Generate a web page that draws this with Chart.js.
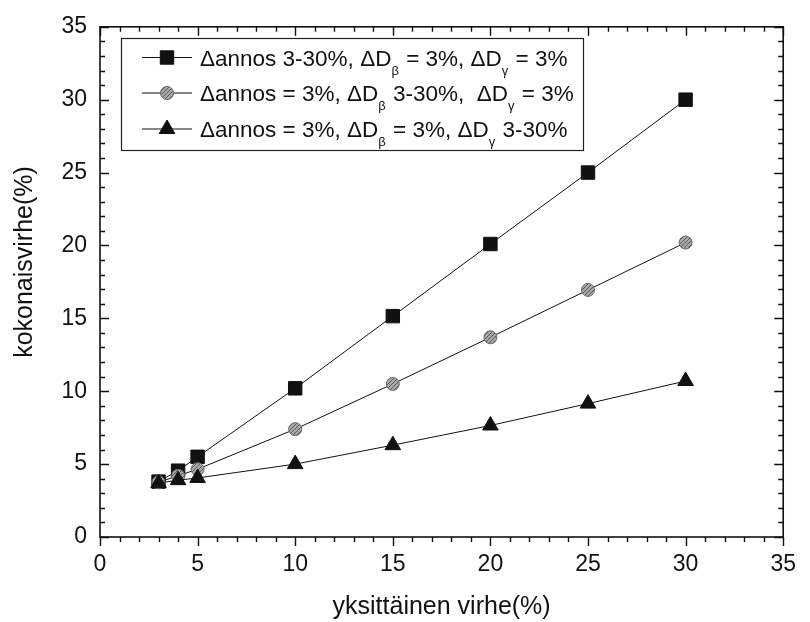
<!DOCTYPE html>
<html>
<head>
<meta charset="utf-8">
<script src="https://cdn.jsdelivr.net/npm/chart.js@4/dist/chart.umd.min.js"></script>
<style>
html,body{margin:0;padding:0;background:#fff;}
#wrap{width:810px;height:622px;position:relative;}
</style>
</head>
<body>
<div id="wrap"><canvas id="c" width="810" height="622"></canvas></div>
<script>
// ---- data ----
const xValues = [3, 4, 5, 10, 15, 20, 25, 30];
const seriesAnnos  = [3.8, 4.55, 5.5, 10.2, 15.15, 20.1, 25.0, 30.0];
const seriesDbeta  = [3.75, 4.2, 4.65, 7.4, 10.5, 13.7, 16.95, 20.2];
const seriesDgamma = [3.7, 3.9, 4.05, 5.0, 6.3, 7.65, 9.15, 10.7];
const xTickValues = [0, 5, 10, 15, 20, 25, 30, 35];
const yTickValues = [0, 5, 10, 15, 20, 25, 30, 35];
const xTitle = 'yksittäinen virhe(%)';
const yTitle = 'kokonaisvirhe(%)';
// legend label pieces: [text, isSubscript]
const legendLabels = [
  [['Δannos 3-30%, ΔD', false], ['β', true], [' = 3%, ΔD', false], ['γ', true], [' = 3%', false]],
  [['Δannos = 3%, ΔD', false], ['β', true], [' 3-30%,  ΔD', false], ['γ', true], [' = 3%', false]],
  [['Δannos = 3%, ΔD', false], ['β', true], [' = 3%, ΔD', false], ['γ', true], [' 3-30%', false]]
];

const FONT = "'Liberation Sans', Arial, sans-serif";

function toPoints(ys) { return xValues.map((x, i) => ({x: x, y: ys[i]})); }

// hatched gray pattern for circles
function makePattern() {
  const p = document.createElement('canvas');
  p.width = 4; p.height = 4;
  const g = p.getContext('2d');
  g.fillStyle = '#a8a8a8'; g.fillRect(0, 0, 4, 4);
  g.strokeStyle = '#5a5a5a'; g.lineWidth = 1;
  g.beginPath(); g.moveTo(0, 4); g.lineTo(4, 0); g.stroke();
  return g.createPattern(p, 'repeat');
}
const ctx = document.getElementById('c').getContext('2d');
const hatch = makePattern();

const styles = [
  {pointStyle: 'rect', radius: 9.5, bg: '#111', border: '#111'},
  {pointStyle: 'circle', radius: 6.5, bg: hatch, border: '#6a6a6a'},
  {pointStyle: 'triangle', radius: 9, bg: '#111', border: '#111'}
];

const framePlugin = {
  id: 'frame',
  afterDraw(chart) {
    const c = chart.ctx, a = chart.chartArea;
    const xs = chart.scales.x, ys = chart.scales.y;
    c.save();
    c.strokeStyle = '#111';
    c.lineWidth = 1.6;
    c.strokeRect(a.left, a.top, a.right - a.left, a.bottom - a.top);
    c.lineWidth = 1.4;
    c.beginPath();
    for (let v = xs.min; v <= xs.max; v++) {
      const px = Math.round(xs.getPixelForValue(v)) + 0.5;
      const major = v % 5 === 0;
      const len = major ? 9 : 5;
      c.moveTo(px, a.bottom); c.lineTo(px, a.bottom + len);
      c.moveTo(px, a.top); c.lineTo(px, a.top + len);
    }
    for (let v = ys.min; v <= ys.max; v++) {
      const py = Math.round(ys.getPixelForValue(v)) + 0.5;
      const major = v % 5 === 0;
      const len = major ? 9 : 5;
      c.moveTo(a.left, py); c.lineTo(a.left + len, py);
      c.moveTo(a.right, py); c.lineTo(a.right - len, py);
    }
    c.stroke();

    // y axis title
    c.save();
    c.translate(25, 262);
    c.rotate(-Math.PI / 2);
    c.font = '25px ' + FONT;
    c.fillStyle = '#111';
    c.textAlign = 'center';
    c.textBaseline = 'middle';
    c.fillText(yTitle, 0, 0);
    c.restore();

    // legend
    const bx = 121.5, by = 38.5, bw = 462, bh = 112;
    c.fillStyle = '#fff';
    c.fillRect(bx, by, bw, bh);
    c.lineWidth = 1.2;
    c.strokeStyle = '#222';
    c.strokeRect(bx, by, bw, bh);
    const rows = [57.5, 93, 129];
    legendLabels.forEach((pieces, i) => {
      const y = rows[i];
      const st = styles[i];
      c.strokeStyle = '#111';
      c.lineWidth = 1;
      c.beginPath(); c.moveTo(142, y); c.lineTo(192, y); c.stroke();
      c.fillStyle = st.bg; c.strokeStyle = st.border; c.lineWidth = 1;
      Chart.helpers.drawPoint(c, {pointStyle: st.pointStyle, radius: st.radius, rotation: 0, borderWidth: 1}, 167, y);
      // text
      let tx = 200;
      const base = y + 8;
      c.fillStyle = '#111';
      c.textBaseline = 'alphabetic';
      c.textAlign = 'left';
      pieces.forEach(([t, sub]) => {
        c.font = (sub ? '13px ' : '22.5px ') + FONT;
        c.fillText(t, tx, sub ? base + 9 : base);
        tx += c.measureText(t).width + (sub ? 1 : 0);
      });
    });
    c.restore();
  }
};

const chart = new Chart(ctx, {
  type: 'scatter',
  data: {
    datasets: [
      {label: 'annos', data: toPoints(seriesAnnos), order: 2},
      {label: 'Dbeta', data: toPoints(seriesDbeta), order: 1},
      {label: 'Dgamma', data: toPoints(seriesDgamma), order: 0}
    ].map((d, i) => Object.assign(d, {
      showLine: true,
      borderColor: '#111',
      borderWidth: 1,
      pointStyle: styles[i].pointStyle,
      pointRadius: styles[i].radius,
      pointBackgroundColor: styles[i].bg,
      pointBorderColor: styles[i].border,
      pointBorderWidth: 1
    }))
  },
  options: {
    responsive: false,
    animation: false,
    devicePixelRatio: 1,
    layout: {padding: {top: 15, right: 12, left: 0, bottom: 0}},
    plugins: {legend: {display: false}, tooltip: {enabled: false}},
    scales: {
      x: {
        type: 'linear', min: 0, max: 35,
        afterBuildTicks(s) { s.ticks = xTickValues.map(v => ({value: v})); },
        afterFit(s) { s.height = 85; },
        grid: {display: false, drawTicks: false},
        border: {display: false},
        ticks: {color: '#111', font: {family: FONT, size: 23}, padding: 14, maxRotation: 0},
        title: {display: true, text: xTitle, color: '#111', font: {family: FONT, size: 25}, padding: {top: 0, bottom: 0}}
      },
      y: {
        type: 'linear', min: 0, max: 35,
        afterBuildTicks(s) { s.ticks = yTickValues.map(v => ({value: v})); },
        afterFit(s) { s.width = 100; },
        grid: {display: false, drawTicks: false},
        border: {display: false},
        ticks: {color: '#111', font: {family: FONT, size: 23}, padding: 13},
        title: {display: false, text: yTitle}
      }
    }
  },
  plugins: [framePlugin]
});
</script>
</body>
</html>
